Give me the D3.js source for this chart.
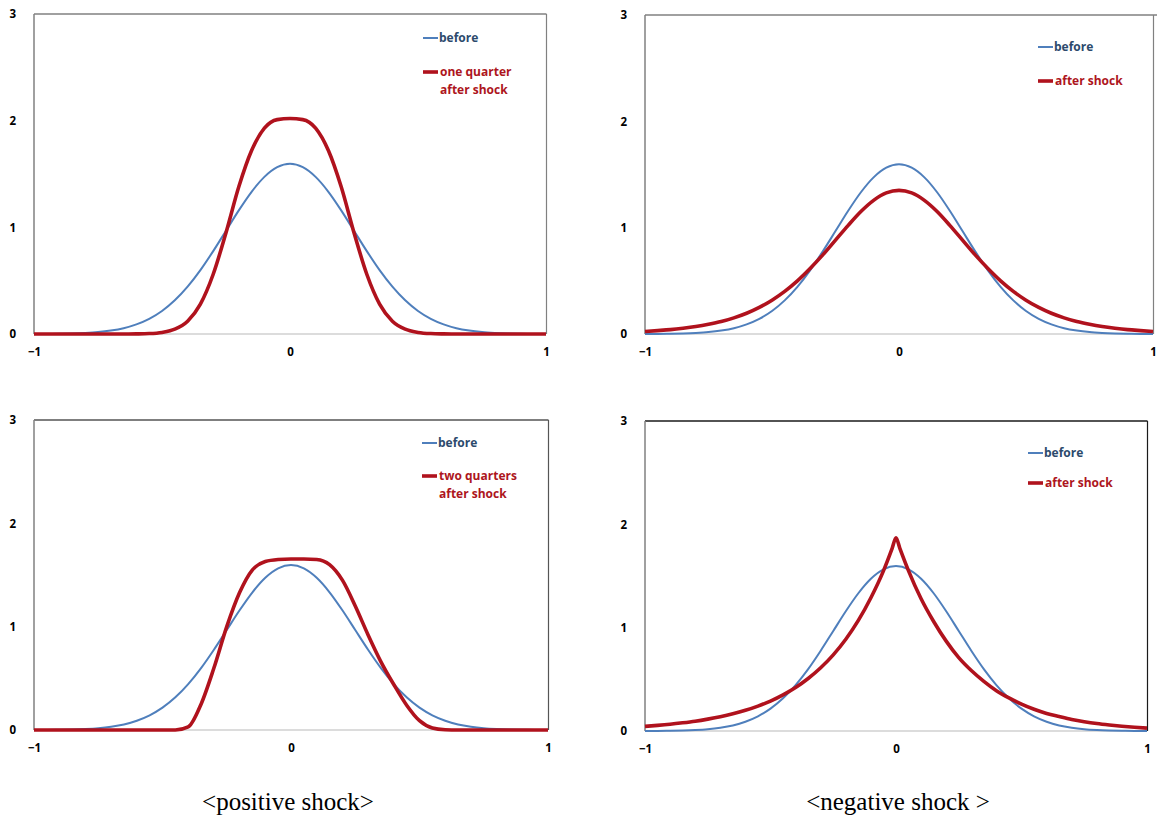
<!DOCTYPE html>
<html>
<head>
<meta charset="utf-8">
<script src="https://cdn.jsdelivr.net/npm/d3@7"></script>
<style>
  html, body { margin: 0; padding: 0; background: #fff; }
  svg { display: block; }
  .tick text { font-family: "Open Sans", sans-serif; font-weight: 700; font-size: 11.5px; fill: #000; }
  .legend { font-family: "Open Sans", sans-serif; font-weight: 700; font-size: 12px; }
  .caption { font-family: "Liberation Serif", "Times New Roman", serif; font-size: 25px; fill: #000; }
</style>
</head>
<body>
<svg id="chart" width="1157" height="821"></svg>
<script>
// Sample points on the return axis
const xGrid = [-1, -0.95, -0.9, -0.85, -0.8, -0.75, -0.7, -0.65, -0.6, -0.55, -0.5,
  -0.45, -0.4, -0.35, -0.3, -0.25, -0.2, -0.15, -0.1, -0.05, 0,
  0.05, 0.1, 0.15, 0.2, 0.25, 0.3, 0.35, 0.4, 0.45, 0.5,
  0.55, 0.6, 0.65, 0.7, 0.75, 0.8, 0.85, 0.9, 0.95, 1];

// Density before the shock (same in all four panels)
const before = [0.001, 0.001, 0.002, 0.005, 0.010, 0.018, 0.032, 0.054, 0.090, 0.142, 0.216,
  0.316, 0.444, 0.599, 0.777, 0.968, 1.159, 1.333, 1.473, 1.564, 1.596,
  1.564, 1.473, 1.333, 1.159, 0.968, 0.777, 0.599, 0.444, 0.316, 0.216,
  0.142, 0.090, 0.054, 0.032, 0.018, 0.010, 0.005, 0.002, 0.001, 0.001];

// Positive shock, one quarter later
const posOneQuarter = [0, 0, 0, 0, 0, 0, 0, 0, 0.001, 0.004, 0.015,
  0.045, 0.12, 0.28, 0.56, 0.95, 1.38, 1.72, 1.93, 2.01, 2.02,
  2.01, 1.93, 1.72, 1.38, 0.95, 0.56, 0.28, 0.12, 0.045, 0.015,
  0.004, 0.001, 0, 0, 0, 0, 0, 0, 0, 0];

// Positive shock, two quarters later
const posTwoQuarters = [0, 0, 0, 0, 0, 0, 0, 0, 0, 0, 0,
  0, 0.03, 0.25, 0.60, 1.00, 1.33, 1.55, 1.63, 1.65, 1.655,
  1.655, 1.65, 1.60, 1.45, 1.20, 0.92, 0.66, 0.44, 0.24, 0.09,
  0.02, 0.003, 0, 0, 0, 0, 0, 0, 0, 0];

// Negative shock, first panel
const negAfter = [0.024, 0.032, 0.041, 0.054, 0.070, 0.091, 0.117, 0.152, 0.195, 0.250, 0.318,
  0.401, 0.500, 0.616, 0.744, 0.883, 1.022, 1.152, 1.257, 1.327, 1.351,
  1.327, 1.257, 1.152, 1.022, 0.883, 0.744, 0.616, 0.500, 0.401, 0.318,
  0.250, 0.195, 0.152, 0.117, 0.091, 0.070, 0.054, 0.041, 0.032, 0.024];

// Negative shock, second panel (peaked at zero, extra points around the cusp)
const xCusp = [-1, -0.95, -0.9, -0.85, -0.8, -0.75, -0.7, -0.65, -0.6, -0.55, -0.5,
  -0.45, -0.4, -0.35, -0.3, -0.25, -0.2, -0.15, -0.1, -0.05, -0.015, 0, 0.015,
  0.05, 0.1, 0.15, 0.2, 0.25, 0.3, 0.35, 0.4, 0.45, 0.5,
  0.55, 0.6, 0.65, 0.7, 0.75, 0.8, 0.85, 0.9, 0.95, 1];
const negPeaked = [0.045, 0.054, 0.065, 0.079, 0.095, 0.115, 0.138, 0.166, 0.200, 0.241, 0.290,
  0.350, 0.421, 0.508, 0.612, 0.737, 0.888, 1.07, 1.29, 1.55, 1.77, 1.87, 1.77,
  1.55, 1.28, 1.06, 0.87, 0.71, 0.585, 0.48, 0.39, 0.32, 0.26,
  0.21, 0.17, 0.14, 0.112, 0.09, 0.072, 0.058, 0.046, 0.036, 0.028];

const xTicks = [-1, 0, 1];
const yTicks = [0, 1, 2, 3];
const beforeLabel = "before";

const BLUE = "#4f7fbc";
const RED = "#b0121d";
const BLUE_TEXT = "#2c4a6c";
const RED_TEXT = "#ad1520";

const panels = [
  { box: { x0: 34, x1: 546, y0: 14, y1: 334 }, xs: xGrid, after: posOneQuarter,
    afterLabel: ["one quarter", "after shock"], topExtra: 0,
    legend: { x: 423, yBlue: 38, yRed: 72 }, frame: "#808080", frameRight: "#808080" },
  { box: { x0: 645, x1: 1153, y0: 15, y1: 334 }, xs: xGrid, after: negAfter,
    afterLabel: ["after shock"], topExtra: 4,
    legend: { x: 1038, yBlue: 47, yRed: 81 }, frame: "#808080", frameRight: "#808080" },
  { box: { x0: 34, x1: 548, y0: 420, y1: 730 }, xs: xGrid, after: posTwoQuarters,
    afterLabel: ["two quarters", "after shock"], topExtra: 0,
    legend: { x: 422, yBlue: 443, yRed: 476 }, frame: "#808080", frameRight: "#555" },
  { box: { x0: 645, x1: 1147, y0: 421, y1: 731 }, xs: xCusp, after: negPeaked,
    afterLabel: ["after shock"], topExtra: 0,
    legend: { x: 1028, yBlue: 453, yRed: 483 }, frame: "#808080", frameRight: "#1a1a1a" }
];

const svg = d3.select("#chart");

panels.forEach(p => {
  const b = p.box;
  const x = d3.scaleLinear().domain([-1, 1]).range([b.x0, b.x1]);
  const y = d3.scaleLinear().domain([0, 3]).range([b.y1, b.y0]);
  const g = svg.append("g");

  // plot frame
  g.append("line").attr("x1", b.x0).attr("x2", b.x1).attr("y1", b.y1).attr("y2", b.y1)
    .attr("stroke", "#d0d0d0").attr("stroke-width", 1.5);
  g.append("line").attr("x1", b.x0).attr("x2", b.x1 + 0.5 + p.topExtra).attr("y1", b.y0).attr("y2", b.y0)
    .attr("stroke", p.frameRight).attr("stroke-width", 1.5);
  g.append("line").attr("x1", b.x0).attr("x2", b.x0).attr("y1", b.y0).attr("y2", b.y1)
    .attr("stroke", p.frame).attr("stroke-width", 1.5);
  g.append("line").attr("x1", b.x1 + 0.5).attr("x2", b.x1 + 0.5).attr("y1", b.y0).attr("y2", b.y1)
    .attr("stroke", p.frameRight).attr("stroke-width", 1.2);

  // axes (labels only)
  const ax = g.append("g").attr("transform", `translate(0,${b.y1})`)
    .call(d3.axisBottom(x).tickValues(xTicks).tickSize(0).tickPadding(14).tickFormat(d3.format("d")));
  ax.select(".domain").remove();
  const ay = g.append("g").attr("transform", `translate(${b.x0},0)`)
    .call(d3.axisLeft(y).tickValues(yTicks).tickSize(0).tickPadding(18).tickFormat(d3.format("d")));
  ay.select(".domain").remove();

  const line = d3.line().x(d => x(d[0])).y(d => y(d[1])).curve(d3.curveMonotoneX);

  g.append("path").datum(xGrid.map((v, i) => [v, before[i]]))
    .attr("d", line).attr("fill", "none").attr("stroke", BLUE).attr("stroke-width", 2);
  g.append("path").datum(p.xs.map((v, i) => [v, p.after[i]]))
    .attr("d", line).attr("fill", "none").attr("stroke", RED).attr("stroke-width", 3.6)
    .attr("stroke-linejoin", "round");

  // legend
  const L = p.legend;
  g.append("line").attr("x1", L.x).attr("x2", L.x + 15).attr("y1", L.yBlue).attr("y2", L.yBlue)
    .attr("stroke", BLUE).attr("stroke-width", 2);
  g.append("text").attr("class", "legend").attr("x", L.x + 16).attr("y", L.yBlue + 4)
    .attr("fill", BLUE_TEXT).text(beforeLabel);
  g.append("line").attr("x1", L.x).attr("x2", L.x + 15).attr("y1", L.yRed).attr("y2", L.yRed)
    .attr("stroke", RED).attr("stroke-width", 3.6);
  p.afterLabel.forEach((t, i) => {
    g.append("text").attr("class", "legend").attr("x", L.x + 17).attr("y", L.yRed + 4 + i * 18)
      .attr("fill", RED_TEXT).text(t);
  });
});

// captions under each column
svg.append("text").attr("class", "caption").attr("x", 288).attr("y", 810)
  .attr("text-anchor", "middle").text("<positive shock>");
svg.append("text").attr("class", "caption").attr("x", 898).attr("y", 810)
  .attr("text-anchor", "middle").text("<negative shock >");
</script>
</body>
</html>
